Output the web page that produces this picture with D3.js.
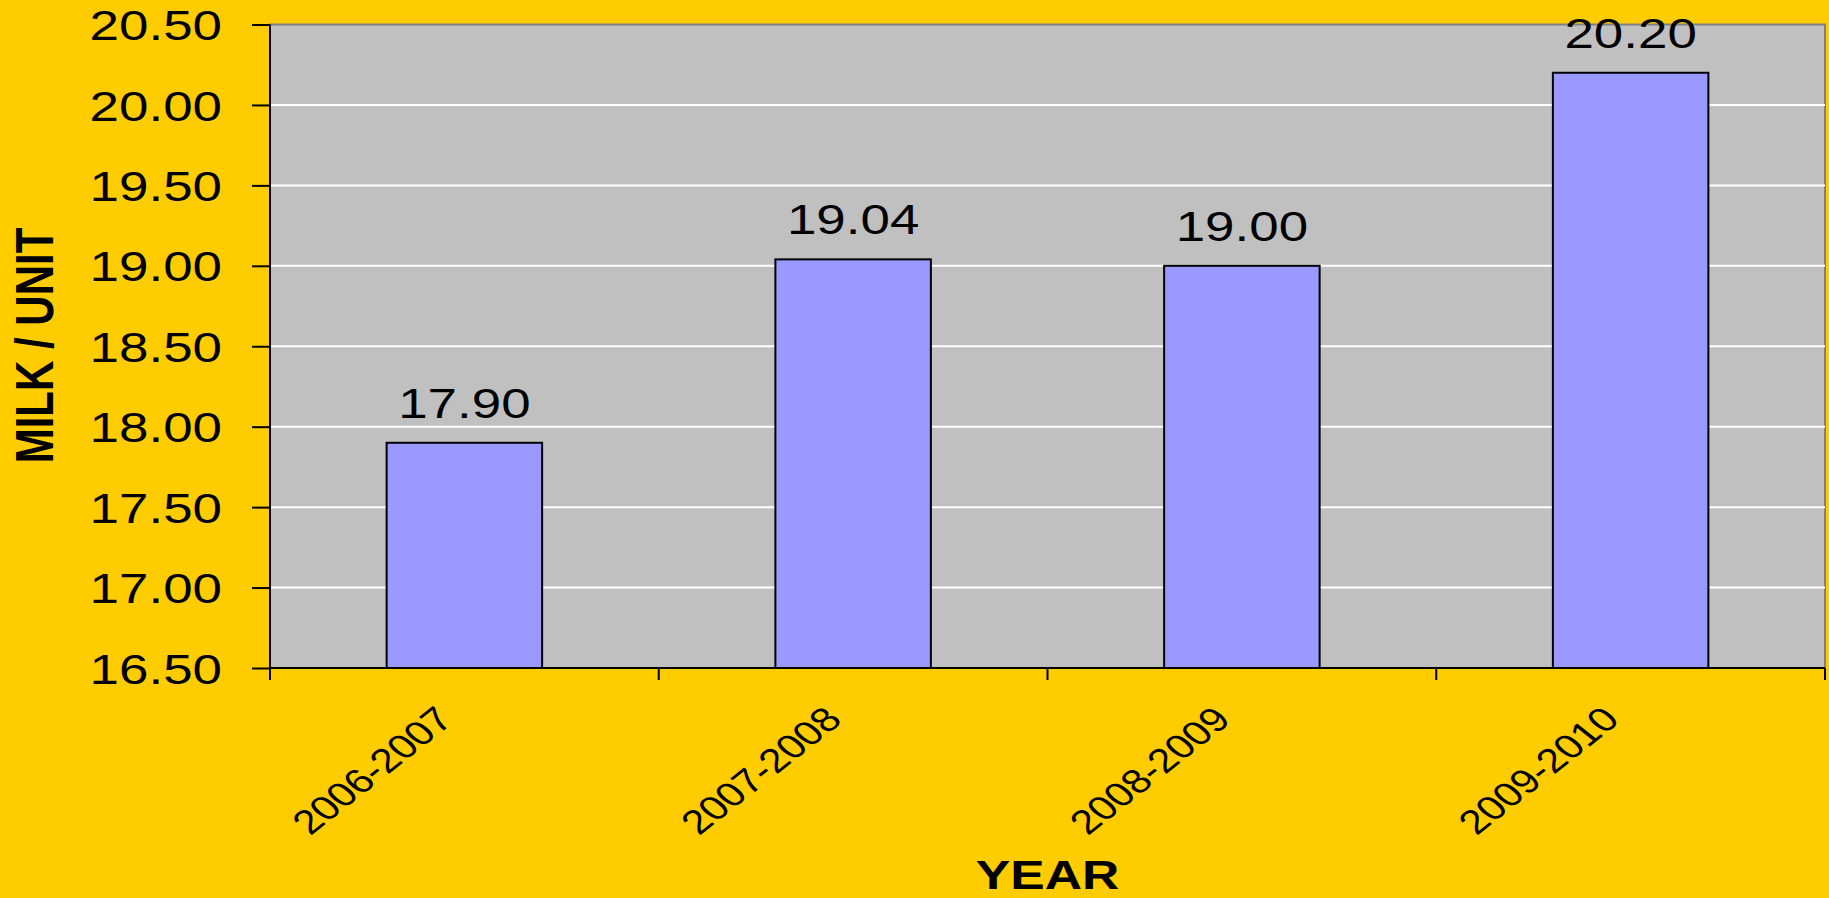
<!DOCTYPE html>
<html>
<head>
<meta charset="utf-8">
<script src="https://cdn.jsdelivr.net/npm/d3@7"></script>
<style>
  body { margin: 0; background: #FFCC00; }
  svg { display: block; font-family: "Liberation Sans", Arial, sans-serif; }
</style>
</head>
<body>
<div id="chart"></div>
<script>
// Milk price per unit, by year
const years  = ["2006-2007", "2007-2008", "2008-2009", "2009-2010"];
const prices = [17.90, 19.04, 19.00, 20.20];
const yTicks = [16.5, 17, 17.5, 18, 18.5, 19, 19.5, 20, 20.5];

const width  = 1829;
const height = 898;
const margin = { top: 24.5, right: 4, bottom: 230, left: 270 };
const stretch = 1.26; // the original text is drawn a bit wide

const svg = d3.select("#chart")
  .append("svg")
  .attr("width", width)
  .attr("height", height);

svg.append("rect")
  .attr("width", width)
  .attr("height", height)
  .attr("fill", "#FFCC00");

const innerW = width - margin.left - margin.right;
const innerH = height - margin.top - margin.bottom;

const g = svg.append("g")
  .attr("transform", `translate(${margin.left}, ${margin.top})`);

const x = d3.scaleBand()
  .domain(years)
  .range([0, innerW])
  .paddingInner(0.6)
  .paddingOuter(0.3);

const y = d3.scaleLinear()
  .domain([16.5, 20.5])
  .range([innerH, 0]);

// plot area
g.append("rect")
  .attr("width", innerW)
  .attr("height", innerH)
  .attr("fill", "#C0C0C0")
  .attr("stroke", "#808080")
  .attr("stroke-width", 2);

// white gridlines
g.selectAll("line.grid")
  .data(yTicks.slice(1, -1))
  .join("line")
    .attr("class", "grid")
    .attr("x1", 0)
    .attr("x2", innerW)
    .attr("y1", d => y(d))
    .attr("y2", d => y(d))
    .attr("stroke", "#FFFFFF")
    .attr("stroke-width", 2);

// bars
g.selectAll("rect.bar")
  .data(prices)
  .join("rect")
    .attr("class", "bar")
    .attr("x", (d, i) => x(years[i]))
    .attr("y", d => y(d))
    .attr("width", x.bandwidth())
    .attr("height", d => innerH - y(d))
    .attr("fill", "#9999FF")
    .attr("stroke", "#000000")
    .attr("stroke-width", 2);

// value labels above bars
g.selectAll("text.value")
  .data(prices)
  .join("text")
    .attr("class", "value")
    .attr("text-anchor", "middle")
    .attr("transform", (d, i) =>
      `translate(${x(years[i]) + x.bandwidth() / 2}, ${y(d) - 25}) scale(${stretch},1)`)
    .style("font-size", "42px")
    .text(d => d.toFixed(2));

// y axis
const yAxis = g.append("g")
  .call(d3.axisLeft(y).tickValues(yTicks).tickFormat(d3.format(".2f")).tickSize(18).tickSizeOuter(0));

yAxis.select(".domain").remove();
yAxis.selectAll(".tick line").attr("stroke", "#000").attr("stroke-width", 2);
yAxis.selectAll(".tick text")
  .attr("x", null)
  .attr("dy", "0.36em")
  .attr("transform", `translate(-48,0) scale(${stretch},1)`)
  .attr("fill", "#000")
  .style("font-size", "42px");

// x axis: ticks on category boundaries
const gap = x.step() - x.bandwidth();
const bounds = years.map(c => x(c) - gap / 2).concat([x(years[years.length - 1]) + x.bandwidth() + gap / 2]);

g.selectAll("line.xtick")
  .data(bounds)
  .join("line")
    .attr("class", "xtick")
    .attr("x1", d => d)
    .attr("x2", d => d)
    .attr("y1", innerH)
    .attr("y2", innerH + 12)
    .attr("stroke", "#000")
    .attr("stroke-width", 2);

// axis lines
g.append("line")
  .attr("x1", 0).attr("x2", innerW)
  .attr("y1", innerH).attr("y2", innerH)
  .attr("stroke", "#000").attr("stroke-width", 2);

g.append("line")
  .attr("x1", 0).attr("x2", 0)
  .attr("y1", 0).attr("y2", innerH)
  .attr("stroke", "#000").attr("stroke-width", 2);

// rotated category labels
g.selectAll("text.cat")
  .data(years)
  .join("text")
    .attr("class", "cat")
    .attr("text-anchor", "end")
    .attr("dy", "0.35em")
    .attr("transform", d =>
      `translate(${x(d) + x.bandwidth() / 2 - 20}, ${innerH + 45}) scale(${stretch},1) rotate(-45)`)
    .style("font-size", "34px")
    .text(d => d);

// axis titles
svg.append("text")
  .attr("text-anchor", "middle")
  .attr("transform", `translate(${margin.left + innerW / 2}, 889) scale(${stretch},1)`)
  .style("font-size", "41px")
  .style("font-weight", "bold")
  .text("YEAR");

svg.append("text")
  .attr("text-anchor", "middle")
  .attr("dy", "0.36em")
  .attr("transform", `translate(34, 345.5) scale(${stretch},1) rotate(-90)`)
  .style("font-size", "42px")
  .style("font-weight", "bold")
  .text("MILK / UNIT");
</script>
</body>
</html>
